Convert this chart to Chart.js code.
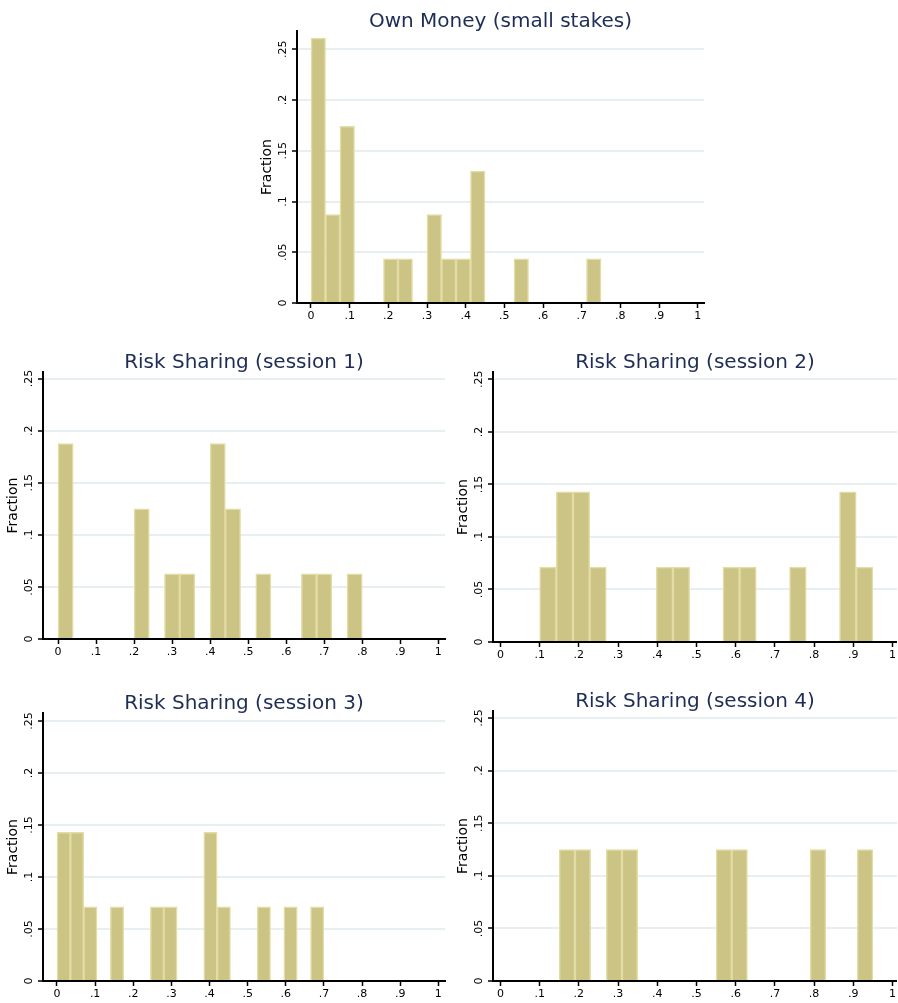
<!DOCTYPE html>
<html>
<head>
<meta charset="utf-8">
<script src="https://cdn.jsdelivr.net/npm/chart.js@4.4.1/dist/chart.umd.min.js"></script>
<style>
  body { margin: 0; background: #fff; }
  #page { position: relative; width: 898px; height: 1003px; }
  canvas { position: absolute; }
</style>
</head>
<body>
<div id="page">
  <canvas id="c0"></canvas>
  <canvas id="c1"></canvas>
  <canvas id="c2"></canvas>
  <canvas id="c3"></canvas>
  <canvas id="c4"></canvas>
</div>
<script>
// tick values and labels, shared by all five panels
const X_TICKS = [0, 0.1, 0.2, 0.3, 0.4, 0.5, 0.6, 0.7, 0.8, 0.9, 1];
const X_TICK_LABELS = ['0', '.1', '.2', '.3', '.4', '.5', '.6', '.7', '.8', '.9', '1'];
const Y_TICKS = [0, 0.05, 0.1, 0.15, 0.2, 0.25];
const Y_TICK_LABELS = ['0', '.05', '.1', '.15', '.2', '.25'];
const Y_TITLE = 'Fraction';

const TITLES = [
    'Own Money (small stakes)',
    'Risk Sharing (session 1)',
    'Risk Sharing (session 2)',
    'Risk Sharing (session 3)',
    'Risk Sharing (session 4)'
];

// histogram bins: first lower edge and width, then the fraction in each of the 20 bins
const BIN_START = [0, 0, 0.1, 0, 0.15];
const BIN_WIDTH = [0.0375, 0.04, 0.0425, 0.035, 0.04];

const OWN_MONEY = [0.261, 0.087, 0.174, 0, 0, 0.0435, 0.0435, 0, 0.087, 0.0435,
                   0.0435, 0.130, 0, 0, 0.0435, 0, 0, 0, 0, 0.0435];
const SESSION_1 = [0.1875, 0, 0, 0, 0, 0.125, 0, 0.0625, 0.0625, 0,
                   0.1875, 0.125, 0, 0.0625, 0, 0, 0.0625, 0.0625, 0, 0.0625];
const SESSION_2 = [0.0714, 0.1429, 0.1429, 0.0714, 0, 0, 0, 0.0714, 0.0714, 0,
                   0, 0.0714, 0.0714, 0, 0, 0.0714, 0, 0, 0.1429, 0.0714];
const SESSION_3 = [0.1429, 0.1429, 0.0714, 0, 0.0714, 0, 0, 0.0714, 0.0714, 0,
                   0, 0.1429, 0.0714, 0, 0, 0.0714, 0, 0.0714, 0, 0.0714];
const SESSION_4 = [0.125, 0.125, 0, 0.125, 0.125, 0, 0, 0, 0, 0,
                   0.125, 0.125, 0, 0, 0, 0, 0.125, 0, 0, 0.125];

const SERIES = [OWN_MONEY, SESSION_1, SESSION_2, SESSION_3, SESSION_4];

// where each panel sits on the page: canvas box [left, top, w, h], plot area [l, t, r, b]
const LAYOUT = [
    { box: [240, 0, 480, 332],   area: [297, 31, 704, 303],  x: [-0.0362, 1.0163], yMax: 0.268 },
    { box: [0, 336, 449, 332],   area: [43, 372, 445, 639],  x: [-0.0395, 1.0176], yMax: 0.2563 },
    { box: [449, 336, 449, 332], area: [493, 372, 897, 642], x: [-0.019, 1.0115],  yMax: 0.257 },
    { box: [0, 676, 449, 327],   area: [43, 713, 445, 981],  x: [-0.0367, 1.0176], yMax: 0.2577 },
    { box: [449, 676, 449, 327], area: [493, 711, 897, 981], x: [-0.019, 1.0115],  yMax: 0.2566 }
];
const X_AXIS_H = 20;

const FONT = '"DejaVu Sans", Verdana, sans-serif';

Chart.defaults.font.family = FONT;

// rotated y labels, y title and the panel title
const panelText = {
    id: 'panelText',
    afterDraw(chart, args, opts) {
        const ctx = chart.ctx;
        const a = chart.chartArea;
        const yScale = chart.scales.y;

        ctx.save();
        ctx.fillStyle = '#000';
        ctx.textAlign = 'center';
        ctx.textBaseline = 'middle';
        ctx.font = '11px ' + FONT;
        yScale.ticks.forEach((t, i) => {
            ctx.save();
            ctx.translate(a.left - 14, yScale.getPixelForValue(t.value));
            ctx.rotate(-Math.PI / 2);
            ctx.fillText(Y_TICK_LABELS[i], 0, 0);
            ctx.restore();
        });

        ctx.font = '14px ' + FONT;
        ctx.save();
        ctx.translate(a.left - 30, (a.top + a.bottom) / 2);
        ctx.rotate(-Math.PI / 2);
        ctx.fillText(Y_TITLE, 0, 0);
        ctx.restore();

        ctx.font = '20px ' + FONT;
        ctx.fillStyle = '#1f2d55';
        ctx.textBaseline = 'alphabetic';
        ctx.fillText(opts.title, (a.left + a.right) / 2, a.top - 4.5);
        ctx.restore();
    }
};

function makePanel(i) {
    const lay = LAYOUT[i];
    const canvas = document.getElementById('c' + i);
    canvas.width = lay.box[2];
    canvas.height = lay.box[3];
    canvas.style.left = lay.box[0] + 'px';
    canvas.style.top = lay.box[1] + 'px';

    const data = SERIES[i].map((v, k) => ({
        x: BIN_START[i] + (k + 0.5) * BIN_WIDTH[i],
        y: v
    }));

    return new Chart(canvas, {
        type: 'bar',
        data: {
            datasets: [{
                data: data,
                backgroundColor: '#cbc484',
                borderColor: '#e2dca5',
                borderWidth: 1.5,
                barPercentage: 1,
                categoryPercentage: 1
            }]
        },
        options: {
            responsive: false,
            animation: false,
            devicePixelRatio: 1,
            layout: {
                padding: {
                    left: lay.area[0] - lay.box[0],
                    top: lay.area[1] - lay.box[1],
                    right: lay.box[0] + lay.box[2] - lay.area[2],
                    bottom: lay.box[1] + lay.box[3] - lay.area[3] - X_AXIS_H
                }
            },
            plugins: {
                legend: { display: false },
                tooltip: { enabled: false },
                panelText: { title: TITLES[i] }
            },
            scales: {
                x: {
                    type: 'linear',
                    offset: false,
                    min: lay.x[0],
                    max: lay.x[1],
                    afterBuildTicks: (s) => { s.ticks = X_TICKS.map(v => ({ value: v })); },
                    afterFit: (s) => { s.height = X_AXIS_H; },
                    grid: {
                        display: true,
                        offset: false,
                        drawOnChartArea: false,
                        drawTicks: true,
                        tickLength: 5,
                        tickColor: '#000',
                        tickWidth: 1.5
                    },
                    border: { display: true, color: '#000', width: 2 },
                    ticks: {
                        autoSkip: false,
                        maxRotation: 0,
                        minRotation: 0,
                        padding: 2,
                        color: '#000',
                        font: { size: 11 },
                        callback: (v, k) => X_TICK_LABELS[k]
                    }
                },
                y: {
                    type: 'linear',
                    min: 0,
                    max: lay.yMax,
                    afterBuildTicks: (s) => { s.ticks = Y_TICKS.map(v => ({ value: v })); },
                    afterFit: (s) => { s.width = 0; },
                    grid: {
                        color: '#e7eff2',
                        lineWidth: 2,
                        drawTicks: true,
                        tickLength: 5,
                        tickColor: '#000',
                        tickWidth: 1.5
                    },
                    border: { display: true, color: '#000', width: 2 },
                    ticks: { display: false }
                }
            }
        },
        plugins: [panelText]
    });
}

TITLES.forEach((t, i) => makePanel(i));
</script>
</body>
</html>
